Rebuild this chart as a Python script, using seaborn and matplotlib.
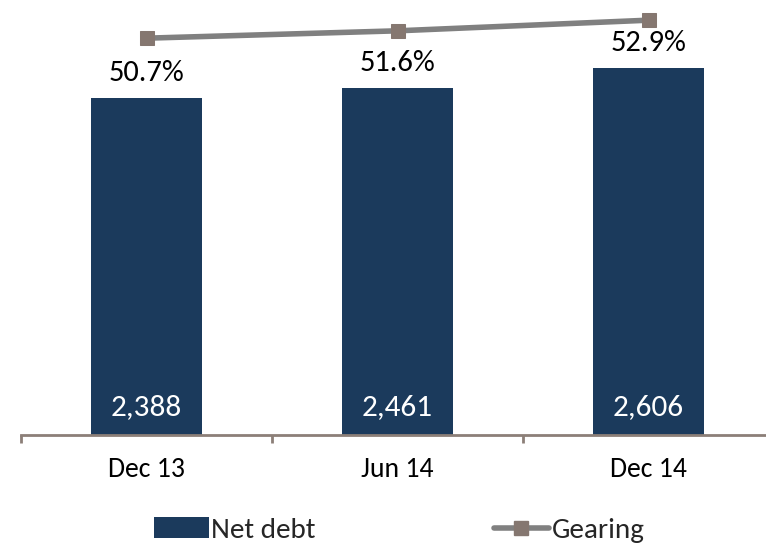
import matplotlib
matplotlib.use("Agg")
import matplotlib.pyplot as plt
import seaborn as sns
import numpy as np
import pandas as pd
from matplotlib.lines import Line2D
from matplotlib.patches import Patch

periods = ["Dec 13", "Jun 14", "Dec 14"]
net_debt = [2388, 2461, 2606]
gearing = [50.7, 51.6, 52.9]
net_debt_labels = ["2,388", "2,461", "2,606"]
gearing_labels = ["50.7%", "51.6%", "52.9%"]

sns.set_theme(style="white")
plt.rcParams['font.family'] = ['Carlito', 'Liberation Sans Narrow', 'DejaVu Sans']

BAR = "#1B3A5C"
LINE = "#808080"
MARK = "#857770"
AXIS = "#8C7F78"

W, H = 766, 545
fig = plt.figure(figsize=(W / 100, H / 100), dpi=100)
left, right, top, bottom = 21, 774, 12, 435
ax = fig.add_axes([left / W, 1 - bottom / H, (right - left) / W, (bottom - top) / H])

df = pd.DataFrame({"period": periods, "net_debt": net_debt})
sns.barplot(data=df, x="period", y="net_debt", color=BAR, width=0.442,
            saturation=1, ax=ax, edgecolor="none")
ax.set_ylim(0, 3000)
ax.set_xlim(-0.5, 2.5)
ax.set_xlabel("")
ax.set_ylabel("")
ax.set_yticks([])
for s in ["left", "right", "top"]:
    ax.spines[s].set_visible(False)
ax.spines["bottom"].set_color(AXIS)
ax.spines["bottom"].set_linewidth(2)
ax.tick_params(axis="x", which="major", bottom=True, length=0, pad=16,
               labelsize=20, labelcolor="black")
ax.set_xticks([-0.5, 0.5, 1.5, 2.5], minor=True)
ax.tick_params(axis="x", which="minor", bottom=True, length=6, width=2,
               color=AXIS, direction="out")

for i, lab in enumerate(net_debt_labels):
    ax.annotate(lab, (i, 0), xytext=(0, 28), textcoords="offset pixels",
                ha="center", va="center", color="white", fontsize=22.5)

ax2 = ax.twinx()
sns.lineplot(x=np.arange(len(periods)), y=gearing, ax=ax2, color=LINE, linewidth=4,
             marker="s", markersize=10, markerfacecolor=MARK, markeredgecolor=MARK)
ax2.set_ylim(2.2, 53.9)
ax2.set_yticks([])
ax2.set_xlim(-0.5, 2.5)
for s in ["left", "right", "top", "bottom"]:
    ax2.spines[s].set_visible(False)

for i, lab in enumerate(gearing_labels):
    ax.annotate(lab, (i, net_debt[i]), xytext=(0, 25), textcoords="offset pixels",
                ha="center", va="center", color="black", fontsize=22)

handles = [Patch(facecolor=BAR, edgecolor="none"),
           Line2D([0], [0], color=LINE, linewidth=4, marker="s", markersize=10,
                  markerfacecolor=MARK, markeredgecolor=MARK)]
fig.legend(handles, ["Net debt", "Gearing"], loc="center", ncol=2,
           bbox_to_anchor=(399 / W, 1 - 530 / H), frameon=False, fontsize=21,
           handlelength=1.9, handletextpad=0.08, columnspacing=6.1, handleheight=0.7,
           borderpad=0.1)

fig.savefig("out.png", dpi=100)
